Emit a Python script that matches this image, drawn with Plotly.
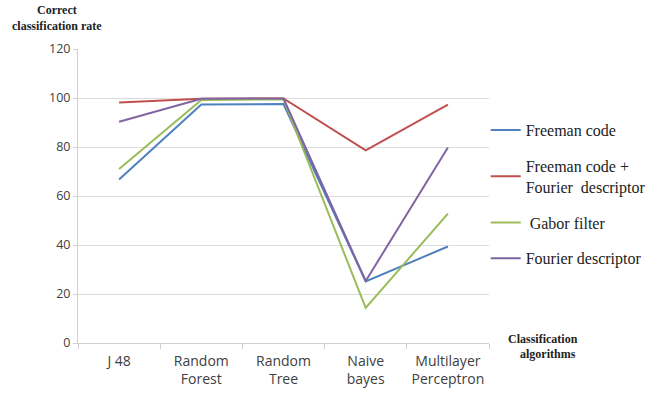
import plotly.graph_objects as go

categories = ["J 48", "Random<br>Forest", "Random<br>Tree", "Naive<br>bayes", "Multilayer<br>Perceptron"]
freeman = [66.7, 97.3, 97.5, 25.1, 39.4]
freeman_fourier = [98.2, 99.7, 99.8, 78.6, 97.3]
gabor = [71.0, 99.2, 99.5, 14.3, 52.8]
fourier = [90.3, 99.7, 99.8, 25.3, 79.8]
y_ticks = [0, 20, 40, 60, 80, 100, 120]

series = [
    ("Freeman code", freeman, "#4F81BD"),
    ("Freeman code +<br>Fourier  descriptor", freeman_fourier, "#C0504D"),
    (" Gabor filter", gabor, "#9BBB59"),
    ("Fourier descriptor", fourier, "#8064A2"),
]

fig = go.Figure()
for i, (name, vals, col) in enumerate(series):
    fig.add_trace(go.Scatter(
        x=categories, y=vals, mode="lines", name=name,
        line=dict(color=col, width=2), legendgroup=f"g{i}",
    ))

fig.update_layout(
    width=664, height=394,
    margin=dict(l=78, r=175, t=49, b=51, autoexpand=False),
    plot_bgcolor="white", paper_bgcolor="white",
    showlegend=True,
    legend=dict(
        x=0.992, xanchor="left", y=0.782, yanchor="top",
        font=dict(family="Liberation Serif", size=16, color="#222222"),
        traceorder="grouped", tracegroupgap=12,
        bgcolor="rgba(0,0,0,0)",
    ),
    xaxis=dict(
        type="category", range=[-0.5, 4.5], automargin=False,
        showgrid=False, showline=True, linecolor="#D0D0D0", linewidth=1,
        ticks="outside", tickson="boundaries", ticklen=5, tickcolor="#D0D0D0",
        ticklabelstandoff=5,
        tickfont=dict(family="Open Sans", size=14, color="#404040"),
    ),
    yaxis=dict(
        range=[0, 120], tickvals=y_ticks, automargin=False,
        showgrid=True, gridcolor="#DCDCDC", gridwidth=1,
        showline=True, linecolor="#D0D0D0", linewidth=1,
        ticks="outside", ticklen=4, tickcolor="#D0D0D0",
        tickfont=dict(family="Open Sans", size=12.5, color="#404040"),
        zeroline=False,
    ),
    annotations=[
        dict(text="<b>Correct</b>", x=57, y=10, showarrow=False,
             font=dict(family="Liberation Serif", size=12, color="#222222")),
        dict(text="<b>classification rate</b>", x=57, y=26, showarrow=False,
             font=dict(family="Liberation Serif", size=12, color="#222222")),
        dict(text="<b>Classification</b>", x=543, y=339, showarrow=False,
             font=dict(family="Liberation Serif", size=12, color="#222222")),
        dict(text="<b>algorithms</b>", x=548, y=354, showarrow=False,
             font=dict(family="Liberation Serif", size=12, color="#222222")),
    ],
)

# convert pixel positions of annotations to paper coords
pl, pr, pt, pb = 78, 664 - 175, 49, 394 - 51
for a in fig.layout.annotations:
    px, py = a.x, a.y
    a.xref = "paper"; a.yref = "paper"
    a.x = (px - pl) / (pr - pl)
    a.y = (pb - py) / (pb - pt)
    a.xanchor = "center"; a.yanchor = "middle"

fig.write_html("out.html", config={"displayModeBar": False},
               post_script="document.body.style.margin='0';")
